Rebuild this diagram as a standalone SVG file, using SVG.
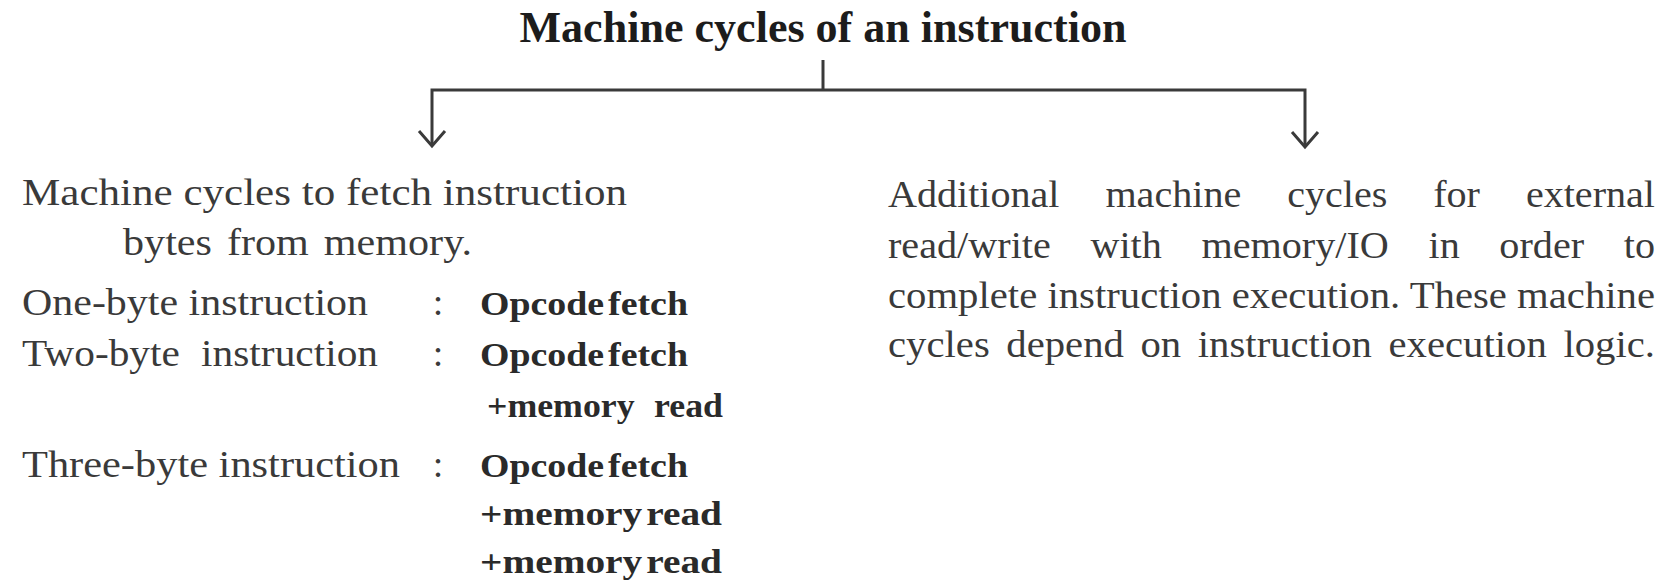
<svg xmlns="http://www.w3.org/2000/svg" width="1666" height="584" viewBox="0 0 1666 584">
<style>
.title{font-family:"Liberation Serif","Times New Roman",serif;font-size:44px;font-weight:bold;fill:#1c1c1c}
.t{font-family:"Liberation Serif","Times New Roman",serif;font-size:38px;fill:#3a3a3a}
.b{font-family:"Liberation Serif","Times New Roman",serif;font-size:34px;font-weight:bold;fill:#2a2a2a}
.tight{word-spacing:-5px}
.ln{fill:none;stroke:#3a3a3a;stroke-width:3}
</style>
<rect width="1666" height="584" fill="#ffffff"/>
<g id="root">
<text class="title" x="823" y="42" text-anchor="middle" textLength="607" lengthAdjust="spacingAndGlyphs">Machine cycles of an instruction</text>
</g>
<g id="connectors">
<line class="ln" x1="823" y1="60" x2="823" y2="90"/>
<polyline class="ln" points="432,145 432,90 1305,90 1305,146"/>
<path class="ln" d="M419,131 L432,146 L445,131"/>
<path class="ln" d="M1292,132 L1305,147 L1318,132"/>
</g>
<g id="fetch">
<text class="t" x="22" y="205" textLength="605" lengthAdjust="spacingAndGlyphs">Machine cycles to fetch instruction</text>
<text class="t" x="123" y="255" textLength="349" lengthAdjust="spacingAndGlyphs" style="word-spacing:4px">bytes from memory.</text>
<text class="t" x="22" y="315" textLength="346" lengthAdjust="spacingAndGlyphs">One-byte instruction</text>
<text class="t" x="438" y="315" text-anchor="middle">:</text>
<text class="b tight" x="480" y="315" textLength="208" lengthAdjust="spacingAndGlyphs">Opcode fetch</text>
<text class="t" x="22" y="366" textLength="356" lengthAdjust="spacingAndGlyphs" style="word-spacing:10px">Two-byte instruction</text>
<text class="t" x="438" y="366" text-anchor="middle">:</text>
<text class="b tight" x="480" y="366" textLength="208" lengthAdjust="spacingAndGlyphs">Opcode fetch</text>
<text class="b" x="487" y="417" textLength="236" lengthAdjust="spacingAndGlyphs" style="word-spacing:10px">+memory read</text>
<text class="t" x="22" y="477" textLength="378" lengthAdjust="spacingAndGlyphs">Three-byte instruction</text>
<text class="t" x="438" y="477" text-anchor="middle">:</text>
<text class="b tight" x="480" y="477" textLength="208" lengthAdjust="spacingAndGlyphs">Opcode fetch</text>
<text class="b tight" x="480" y="525" textLength="242" lengthAdjust="spacingAndGlyphs">+memory read</text>
<text class="b tight" x="480" y="573" textLength="242" lengthAdjust="spacingAndGlyphs">+memory read</text>
</g>
<g id="additional">
<text class="t" x="888" y="207" textLength="767" lengthAdjust="spacingAndGlyphs" style="word-spacing:34px">Additional machine cycles for external</text>
<text class="t" x="888" y="258" textLength="767" lengthAdjust="spacingAndGlyphs" style="word-spacing:28px">read/write with memory/IO in order to</text>
<text class="t" x="888" y="308" textLength="767" lengthAdjust="spacingAndGlyphs">complete instruction execution. These machine</text>
<text class="t" x="888" y="357" textLength="767" lengthAdjust="spacingAndGlyphs" style="word-spacing:6px">cycles depend on instruction execution logic.</text>
</g>
</svg>
